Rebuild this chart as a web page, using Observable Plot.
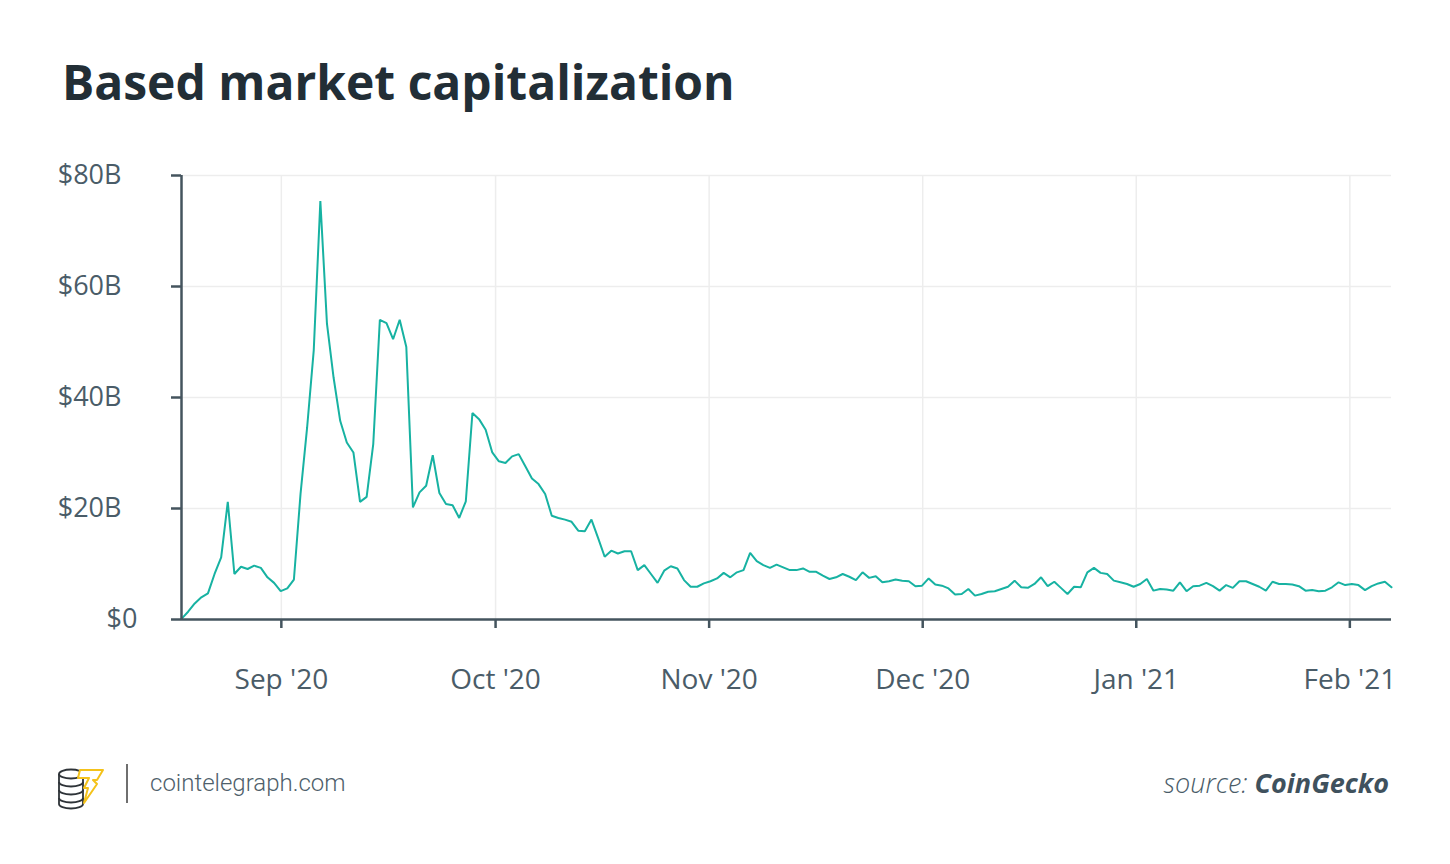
<!DOCTYPE html>
<html>
<head>
<meta charset="utf-8">
<script src="https://cdn.jsdelivr.net/npm/d3@7"></script>
<script src="https://cdn.jsdelivr.net/npm/@observablehq/plot@0.6"></script>
<style>
  html, body { margin: 0; padding: 0; background: #ffffff; }
  body { width: 1450px; height: 864px; position: relative; overflow: hidden; font-family: "Open Sans", sans-serif; }
  #header { position: absolute; left: 0; top: 0; }
  #chart { position: absolute; left: 0; top: 140px; }
  #footer { position: absolute; left: 0; top: 720px; }
</style>
</head>
<body>
<svg id="header" width="1450" height="140">
  <text x="62" y="100" font-family="Open Sans" font-weight="700" font-size="48" fill="#222e36">Based market capitalization</text>
</svg>
<div id="chart"></div>
<svg id="footer" width="1450" height="144">
  <g fill="#ffffff" stroke="#2e3338" stroke-width="1.8">
    <path d="M59,78 v6 a12,4.5 0 0 0 24,0 v-6"/>
    <path d="M59,70 v8 a12,4.5 0 0 0 24,0 v-8"/>
    <path d="M59,62 v8 a12,4.5 0 0 0 24,0 v-8"/>
    <path d="M59,54 v8 a12,4.5 0 0 0 24,0 v-8"/>
    <ellipse cx="71" cy="54" rx="12" ry="4.5"/>
  </g>
  <path d="M80,50 L103,50 L97,60 L93,60 L97,64 L84,83 L88,68 L84,68 L89,58 L78,58 Z" fill="#ffffff" stroke="#f4c21a" stroke-width="2" stroke-linejoin="round"/>
  <line x1="127" y1="44" x2="127" y2="83" stroke="#6f6f6f" stroke-width="2"/>
  <text x="150" y="70.7" font-family="Roboto" font-weight="300" font-size="24" fill="#4f5f6b">cointelegraph.com</text>
  <text x="1389" y="73.3" text-anchor="end" font-family="Open Sans" font-size="27" font-style="italic" fill="#4a5c68"><tspan font-weight="300">source: </tspan><tspan font-weight="700" fill="#3f515d">CoinGecko</tspan></text>
</svg>
<script>
// Market capitalization, billions of USD, one value per data point
const marketCap = [
  0.1, 1.4, 2.9, 4.0, 4.7, 8.2, 11.2, 21.2, 8.2, 9.5,
  9.1, 9.7, 9.3, 7.6, 6.6, 5.1, 5.6, 7.2, 22.6, 34.6,
  48.5, 75.4, 53.3, 43.6, 35.8, 31.9, 30.1, 21.2, 22.1, 31.6,
  54.0, 53.4, 50.5, 54.0, 49.1, 20.2, 22.9, 24.1, 29.6, 22.8,
  20.8, 20.6, 18.3, 21.3, 37.2, 36.1, 34.2, 30.1, 28.5, 28.2,
  29.4, 29.8, 27.6, 25.4, 24.4, 22.6, 18.7, 18.3, 18.0, 17.6,
  16.0, 15.9, 18.0, 14.7, 11.3, 12.4, 11.9, 12.3, 12.3, 8.9,
  9.8, 8.2, 6.6, 8.8, 9.6, 9.2, 7.1, 5.9, 5.9, 6.5,
  6.9, 7.4, 8.4, 7.6, 8.5, 8.9, 12.0, 10.5, 9.8, 9.3,
  9.9, 9.4, 8.9, 8.9, 9.2, 8.6, 8.6, 7.9, 7.3, 7.6,
  8.2, 7.7, 7.1, 8.5, 7.5, 7.8, 6.7, 6.9, 7.2, 7.0,
  6.9, 6.0, 6.1, 7.4, 6.3, 6.1, 5.6, 4.5, 4.6, 5.5,
  4.3, 4.6, 5.0, 5.1, 5.5, 5.9, 7.0, 5.8, 5.7, 6.4,
  7.6, 6.0, 6.8, 5.7, 4.6, 5.9, 5.8, 8.5, 9.3, 8.4,
  8.2, 7.0, 6.7, 6.4, 5.9, 6.4, 7.3, 5.2, 5.5, 5.4,
  5.2, 6.7, 5.1, 6.0, 6.1, 6.6, 6.0, 5.2, 6.2, 5.7,
  6.9, 6.9, 6.4, 5.9, 5.2, 6.8, 6.4, 6.4, 6.3, 6.0,
  5.2, 5.3, 5.1, 5.2, 5.8, 6.7, 6.2, 6.4, 6.2, 5.3,
  6.0, 6.5, 6.8, 5.8
];

// Month tick labels and where they fall along the data-point index
const monthLabels = ["Sep '20", "Oct '20", "Nov '20", "Dec '20", "Jan '21", "Feb '21"];
const monthTickIndex = [15.1, 47.5, 79.8, 112.1, 144.4, 176.7];

// Y ticks in billions
const yTicksB = [20, 40, 60, 80];
const yTickZero = [0];

const data = marketCap.map((v, i) => ({i, v}));

const axisColor = "#44545e";
const labelColor = "#4a5c68";
const gridColor = "#ededed";

const chart = Plot.plot({
  width: 1450,
  height: 580,
  marginLeft: 181,
  marginRight: 59,
  marginTop: 35,
  marginBottom: 101,
  x: {domain: [0, marketCap.length - 1], label: null},
  y: {domain: [0, 80], label: null},
  style: {fontFamily: "Open Sans", fontSize: "27px", color: labelColor, background: "transparent", overflow: "visible"},
  marks: [
    Plot.gridY(yTicksB, {stroke: gridColor, strokeOpacity: 1, strokeWidth: 1.5}),
    Plot.gridX(monthTickIndex, {stroke: gridColor, strokeOpacity: 1, strokeWidth: 1.5}),
    Plot.lineY(data, {x: "i", y: "v", stroke: "#17b2a2", strokeWidth: 2, strokeLinejoin: "miter"}),
    Plot.ruleX([0], {stroke: axisColor, strokeWidth: 2.5}),
    Plot.ruleY([0], {stroke: axisColor, strokeWidth: 2.5}),
    Plot.axisY(yTicksB, {label: null, tickSize: 10, tickPadding: 50, tickFormat: d => `$${d}B`, stroke: axisColor, strokeWidth: 2.5, fill: labelColor, fontSize: 27}),
    Plot.axisY(yTickZero, {label: null, tickSize: 10, tickPadding: 34, tickFormat: d => `$${d}`, stroke: axisColor, strokeWidth: 2.5, fill: labelColor, fontSize: 27}),
    Plot.axisX(monthTickIndex, {label: null, tickSize: 9, tickPadding: 41, tickFormat: d => monthLabels[monthTickIndex.indexOf(d)], stroke: axisColor, strokeWidth: 2.5, fill: labelColor, fontSize: 28})
  ]
});
document.getElementById("chart").append(chart);
</script>
</body>
</html>
